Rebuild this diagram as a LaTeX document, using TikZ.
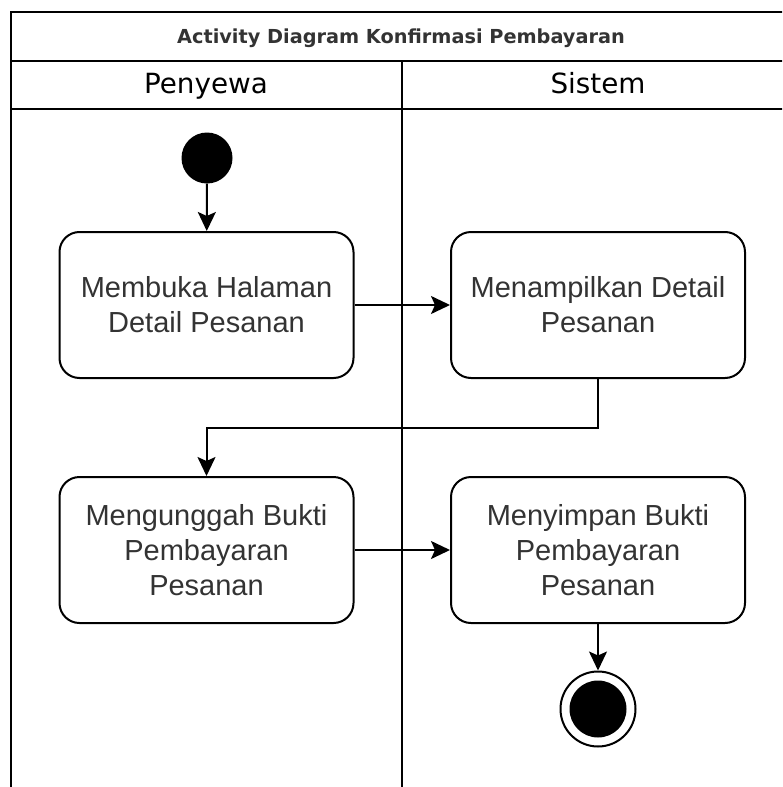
\documentclass[tikz,border=0pt]{standalone}
\usepackage{fontspec}
\setmainfont{Liberation Sans}
\newfontfamily\headfont{DejaVu Sans}
\usetikzlibrary{arrows.meta}
\definecolor{ink}{HTML}{333333}
\tikzset{
  x=1pt, y=-1pt,
  frame/.style={line width=2pt, draw=black},
  action/.style={draw=black, line width=2pt, rounded corners=20pt, fill=white,
    minimum width=294pt, minimum height=146pt, inner sep=0pt,
    align=center, text=ink, font=\fontsize{29}{35}\selectfont},
  flow/.style={line width=2pt, -{Stealth[length=19pt,width=18pt,inset=4pt]}},
  lanehead/.style={anchor=base, font=\headfont\fontsize{27.8}{30}\selectfont, text=black},
  titletext/.style={anchor=base, font=\headfont\bfseries\fontsize{19.3}{22}\selectfont, text=ink}
}
\begin{document}
\begin{tikzpicture}
\useasboundingbox (0,0) rectangle (782,787);
\begin{scope}
\clip (0,0) rectangle (782,787);
% pool frame and lane dividers
\draw[frame] (11,800) -- (11,12) -- (800,12);
\draw[frame] (11,61) -- (800,61);
\draw[frame] (11,109) -- (800,109);
\draw[frame] (402,61) -- (402,800);
\end{scope}
\node[titletext] (title) at (401,43) {Activity Diagram Konfirmasi Pembayaran};
\node[lanehead] (lane1) at (206,93) {Penyewa};
\node[lanehead] (lane2) at (598,93) {Sistem};

% start node
\node[circle, fill=black, minimum size=51pt, inner sep=0pt] (start) at (207,158) {};

% actions
\node[action] (a1) at (206.5,305) {Membuka Halaman\\Detail Pesanan};
\node[action] (a2) at (598,305) {Menampilkan Detail\\Pesanan};
\node[action] (a3) at (206.5,550) {Mengunggah Bukti\\Pembayaran\\Pesanan};
\node[action] (a4) at (598,550) {Menyimpan Bukti\\Pembayaran\\Pesanan};

% final node
\node[circle, draw=black, line width=2pt, fill=white, minimum size=75pt, inner sep=0pt] (final) at (598,709) {};
\node[circle, fill=black, minimum size=57pt, inner sep=0pt] (finaldot) at (final.center) {};

% flows
\draw[flow] (start) -- (a1);
\draw[flow] (a1) -- (a2);
\draw[flow] (a2.south) -- (598,428) -| (a3.north);
\draw[flow] (a3) -- (a4);
\draw[flow] (a4) -- (final);
\end{tikzpicture}
\end{document}
